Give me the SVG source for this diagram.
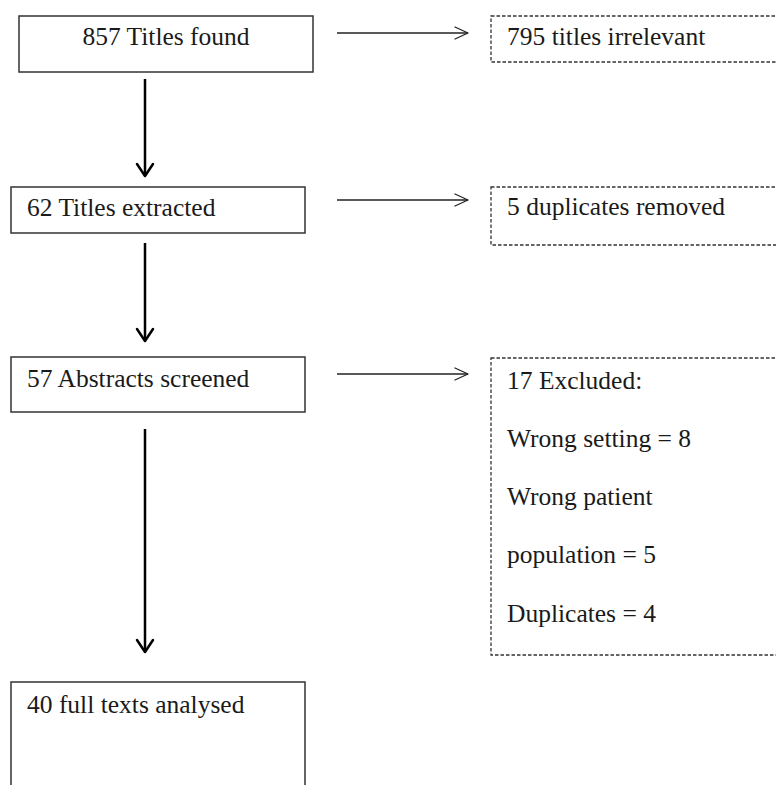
<svg xmlns="http://www.w3.org/2000/svg" width="776" height="785" viewBox="0 0 776 785">
  <style>
    .box { fill: #ffffff; stroke: #333333; stroke-width: 1.5; }
    .dbox { fill: #ffffff; stroke: #333333; stroke-width: 1.3; stroke-dasharray: 3.5 2; }
    .t { font-family: "Liberation Serif", "Times New Roman", serif; font-size: 25.5px; fill: #1a1a1a; }
    .vline { stroke: #000000; stroke-width: 2.5; fill: none; }
    .hline { stroke: #222222; stroke-width: 1.3; fill: none; }
  </style>
  <defs>
    <marker id="vhead" markerUnits="userSpaceOnUse" viewBox="-16 -12 20 24" markerWidth="20" markerHeight="24" refX="0" refY="0" orient="auto" overflow="visible">
      <path d="M -12 -8 L 0 0 L -12 8" fill="none" stroke="#000000" stroke-width="2.5" stroke-linejoin="round" stroke-linecap="round"/>
    </marker>
    <marker id="hhead" markerUnits="userSpaceOnUse" viewBox="-16 -10 20 20" markerWidth="20" markerHeight="20" refX="0" refY="0" orient="auto" overflow="visible">
      <path d="M -13 -6 L 0 0 L -13 6" fill="none" stroke="#222222" stroke-width="1.3" stroke-linejoin="round" stroke-linecap="round"/>
    </marker>
  </defs>
  <rect x="0" y="0" width="776" height="785" fill="#ffffff"/>

  <g id="connectors">
    <line class="vline" x1="145" y1="79" x2="145" y2="176" marker-end="url(#vhead)"/>
    <line class="vline" x1="145" y1="243" x2="145" y2="341" marker-end="url(#vhead)"/>
    <line class="vline" x1="145" y1="429" x2="145" y2="652" marker-end="url(#vhead)"/>
    <line class="hline" x1="337" y1="33" x2="468" y2="33" marker-end="url(#hhead)"/>
    <line class="hline" x1="337" y1="200" x2="468" y2="200" marker-end="url(#hhead)"/>
    <line class="hline" x1="337" y1="374" x2="468" y2="374" marker-end="url(#hhead)"/>
  </g>

  <g id="titles-found">
    <rect class="box" x="19" y="16" width="294" height="56"/>
    <text class="t" x="166" y="45" text-anchor="middle">857 Titles found</text>
  </g>
  <g id="titles-extracted">
    <rect class="box" x="11" y="187" width="294" height="46"/>
    <text class="t" x="27" y="216">62 Titles extracted</text>
  </g>
  <g id="abstracts-screened">
    <rect class="box" x="11" y="357" width="294" height="55"/>
    <text class="t" x="27" y="387">57 Abstracts screened</text>
  </g>
  <g id="full-texts">
    <rect class="box" x="11" y="682" width="294" height="130"/>
    <text class="t" x="27" y="713">40 full texts analysed</text>
  </g>

  <g id="titles-irrelevant">
    <rect class="dbox" x="491" y="16" width="320" height="46"/>
    <text class="t" x="507" y="45">795 titles irrelevant</text>
  </g>
  <g id="duplicates-removed">
    <rect class="dbox" x="491" y="187" width="320" height="58"/>
    <text class="t" x="507" y="215">5 duplicates removed</text>
  </g>
  <g id="excluded">
    <rect class="dbox" x="491" y="358" width="320" height="297"/>
    <text class="t" x="507" y="389">17 Excluded:</text>
    <text class="t" x="507" y="447">Wrong setting = 8</text>
    <text class="t" x="507" y="505">Wrong patient</text>
    <text class="t" x="507" y="563">population = 5</text>
    <text class="t" x="507" y="622">Duplicates = 4</text>
  </g>
</svg>
